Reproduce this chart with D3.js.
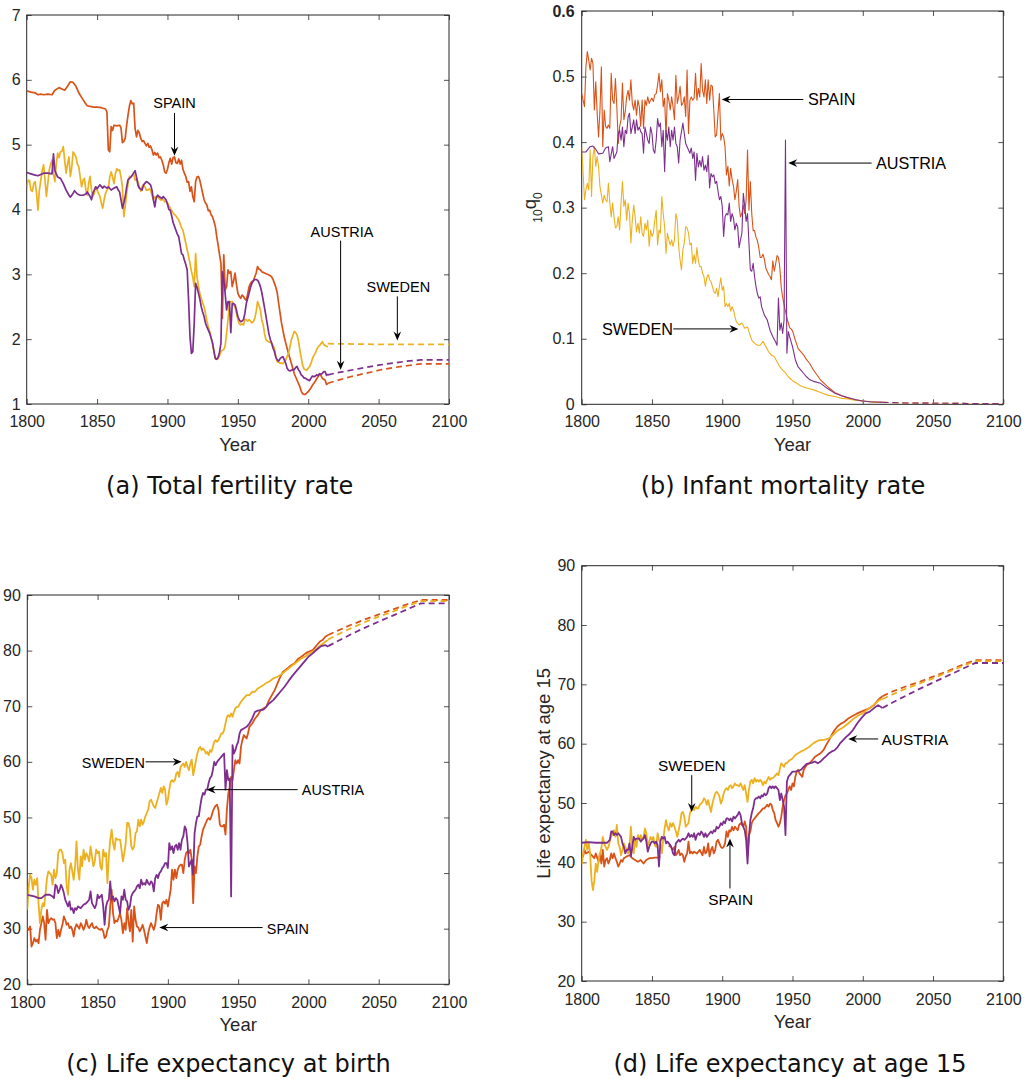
<!DOCTYPE html>
<html><head><meta charset="utf-8">
<script src="https://cdn.jsdelivr.net/npm/d3@7/dist/d3.min.js"></script>
<style>
body{margin:0;background:#fff}
svg{display:block}
</style></head><body>
<svg id="chart" width="1025" height="1079"></svg>
<script>
// ---------------- DATA ----------------
const countries = ['Spain', 'Sweden', 'Austria'];
const xTicks = [1800, 1850, 1900, 1950, 2000, 2050, 2100];
const tfrTicks = [1, 2, 3, 4, 5, 6, 7];
const imrTicks = [0, 0.1, 0.2, 0.3, 0.4, 0.5, 0.6];
const leTicks = [20, 30, 40, 50, 60, 70, 80, 90];

// (a) Total fertility rate
const tfrSpain = [[1800,5.83],[1803,5.81],[1806,5.80],[1808,5.77],[1810,5.78],[1812,5.77],[1815,5.78],[1818,5.77],[1820,5.84],[1823,5.88],[1825,5.86],[1827,5.84],[1829,5.90],[1831,5.97],[1833,5.96],[1835,5.90],[1837,5.80],[1839,5.73],[1841,5.66],[1843,5.60],[1845,5.59],[1848,5.58],[1850,5.58],[1853,5.57],[1856,5.55],[1857,5.50],[1858,4.92],[1859,4.89],[1860,5.28],[1861,5.22],[1862,5.30],[1864,5.29],[1866,5.30],[1867,5.26],[1868,5.03],[1869,5.05],[1870,5.10],[1871,5.30],[1872,5.46],[1873,5.60],[1874,5.68],[1875,5.63],[1876,5.64],[1877,5.25],[1878,5.12],[1879,5.22],[1880,5.18],[1881,5.10],[1882,5.05],[1883,5.06],[1884,5.02],[1885,4.98],[1886,5.02],[1887,4.96],[1888,4.98],[1889,4.92],[1890,4.84],[1891,4.88],[1892,4.84],[1893,4.87],[1894,4.80],[1895,4.81],[1896,4.76],[1897,4.69],[1898,4.58],[1899,4.56],[1900,4.62],[1901,4.72],[1902,4.79],[1903,4.70],[1904,4.80],[1905,4.81],[1906,4.72],[1907,4.71],[1908,4.78],[1909,4.70],[1910,4.76],[1911,4.62],[1912,4.56],[1913,4.51],[1914,4.42],[1915,4.43],[1916,4.28],[1917,4.35],[1918,4.20],[1919,4.12],[1920,4.43],[1921,4.50],[1922,4.51],[1923,4.45],[1924,4.35],[1925,4.25],[1926,4.15],[1927,4.10],[1928,4.07],[1929,3.98],[1930,3.99],[1931,3.92],[1932,3.89],[1933,3.82],[1934,3.74],[1935,3.58],[1936,3.45],[1937,3.30],[1938,3.17],[1939,2.32],[1940,3.30],[1941,2.76],[1942,2.81],[1943,3.07],[1944,3.02],[1945,3.04],[1946,2.81],[1947,2.90],[1948,3.02],[1949,2.85],[1950,2.71],[1951,2.66],[1952,2.63],[1953,2.68],[1954,2.66],[1955,2.62],[1956,2.60],[1957,2.70],[1958,2.81],[1959,2.86],[1960,2.89],[1961,2.90],[1962,2.96],[1963,3.02],[1964,3.12],[1965,3.08],[1966,3.07],[1967,3.04],[1968,3.03],[1969,3.02],[1970,3.01],[1971,3.00],[1972,2.99],[1973,2.98],[1974,2.96],[1975,2.92],[1976,2.86],[1977,2.80],[1978,2.71],[1979,2.55],[1980,2.40],[1981,2.25],[1982,2.14],[1983,2.03],[1984,1.94],[1985,1.86],[1986,1.78],[1987,1.70],[1988,1.63],[1989,1.55],[1990,1.47],[1991,1.42],[1992,1.37],[1993,1.32],[1994,1.27],[1995,1.20],[1996,1.16],[1997,1.15],[1998,1.15],[1999,1.17],[2000,1.19],[2001,1.22],[2002,1.25],[2003,1.29],[2004,1.32],[2005,1.35],[2006,1.39],[2007,1.42],[2008,1.47],[2009,1.44],[2010,1.40],[2011,1.38],[2012,1.37],[2013,1.30],[2014,1.32]];
const tfrSweden = [[1800,4.35],[1801,4.45],[1802,4.45],[1803,4.30],[1804,4.28],[1805,4.40],[1806,4.43],[1807,4.25],[1808,3.99],[1809,4.30],[1810,4.45],[1811,4.60],[1812,4.69],[1813,4.45],[1814,4.20],[1815,4.40],[1816,4.61],[1817,4.70],[1818,4.76],[1819,4.55],[1820,4.43],[1821,4.70],[1822,4.87],[1823,4.80],[1824,4.89],[1825,4.90],[1826,4.97],[1827,4.75],[1828,4.56],[1829,4.70],[1830,4.81],[1831,4.51],[1832,4.65],[1833,4.89],[1834,4.85],[1835,4.81],[1836,4.70],[1837,4.66],[1838,4.50],[1839,4.35],[1840,4.45],[1841,4.48],[1842,4.30],[1843,4.22],[1844,4.40],[1845,4.51],[1846,4.30],[1847,4.20],[1848,4.25],[1849,4.35],[1850,4.30],[1851,4.25],[1852,4.20],[1853,4.10],[1854,4.02],[1855,4.15],[1856,4.25],[1857,4.30],[1858,4.33],[1859,4.50],[1860,4.58],[1861,4.50],[1862,4.40],[1863,4.55],[1864,4.63],[1865,4.60],[1866,4.61],[1867,4.50],[1868,4.35],[1869,3.89],[1870,4.05],[1871,4.25],[1872,4.40],[1873,4.51],[1874,4.50],[1875,4.53],[1876,4.55],[1877,4.45],[1878,4.48],[1879,4.43],[1880,4.35],[1881,4.28],[1882,4.35],[1883,4.38],[1884,4.35],[1885,4.30],[1886,4.30],[1887,4.32],[1888,4.30],[1889,4.22],[1890,4.15],[1891,4.20],[1892,4.18],[1893,4.20],[1894,4.17],[1895,4.15],[1896,4.15],[1897,4.16],[1898,4.12],[1899,4.12],[1900,4.10],[1901,4.06],[1902,4.02],[1903,3.98],[1904,3.95],[1905,3.92],[1906,3.90],[1907,3.87],[1908,3.84],[1909,3.78],[1910,3.72],[1911,3.68],[1912,3.58],[1913,3.48],[1914,3.38],[1915,3.28],[1916,3.17],[1917,3.05],[1918,2.96],[1919,2.81],[1920,3.32],[1921,2.96],[1922,2.82],[1923,2.71],[1924,2.63],[1925,2.56],[1926,2.50],[1927,2.40],[1928,2.28],[1929,2.19],[1930,2.12],[1931,2.02],[1932,1.94],[1933,1.80],[1934,1.70],[1935,1.70],[1936,1.70],[1937,1.75],[1938,1.81],[1939,1.83],[1940,1.84],[1941,1.90],[1942,2.09],[1943,2.30],[1944,2.55],[1945,2.58],[1946,2.58],[1947,2.52],[1948,2.50],[1949,2.40],[1950,2.30],[1951,2.24],[1952,2.22],[1953,2.24],[1954,2.22],[1955,2.30],[1956,2.30],[1957,2.28],[1958,2.30],[1959,2.28],[1960,2.25],[1961,2.27],[1962,2.32],[1963,2.42],[1964,2.58],[1965,2.52],[1966,2.45],[1967,2.30],[1968,2.22],[1969,2.08],[1970,1.99],[1971,1.97],[1972,1.96],[1973,1.95],[1974,1.94],[1975,1.90],[1976,1.86],[1977,1.72],[1978,1.65],[1979,1.64],[1980,1.63],[1981,1.63],[1982,1.62],[1983,1.65],[1984,1.68],[1985,1.73],[1986,1.78],[1987,1.88],[1988,1.99],[1989,2.05],[1990,2.12],[1991,2.10],[1992,2.07],[1993,1.98],[1994,1.84],[1995,1.72],[1996,1.60],[1997,1.54],[1998,1.53],[1999,1.52],[2000,1.55],[2001,1.58],[2002,1.63],[2003,1.70],[2004,1.75],[2005,1.78],[2006,1.84],[2007,1.88],[2008,1.90],[2009,1.93],[2010,1.96],[2011,1.92],[2012,1.90],[2013,1.89],[2014,1.88]];
const tfrAustria = [[1800,4.57],[1803,4.55],[1806,4.53],[1808,4.52],[1810,4.54],[1812,4.56],[1815,4.56],[1818,4.55],[1819,4.86],[1820,4.60],[1822,4.50],[1824,4.48],[1826,4.40],[1828,4.30],[1830,4.22],[1831,4.19],[1833,4.25],[1834,4.29],[1836,4.24],[1838,4.22],[1840,4.22],[1842,4.24],[1843,4.27],[1845,4.20],[1846,4.15],[1847,4.25],[1849,4.35],[1850,4.32],[1852,4.38],[1854,4.33],[1855,4.36],[1857,4.33],[1858,4.35],[1860,4.30],[1862,4.33],[1864,4.35],[1865,4.30],[1866,4.27],[1867,4.15],[1868,4.02],[1869,4.10],[1870,4.20],[1871,4.35],[1872,4.46],[1874,4.50],[1875,4.53],[1877,4.60],[1878,4.50],[1879,4.38],[1880,4.33],[1882,4.30],[1883,4.38],[1885,4.43],[1886,4.42],[1888,4.38],[1889,4.30],[1890,4.15],[1891,4.04],[1892,4.18],[1893,4.22],[1894,4.20],[1896,4.17],[1897,4.20],[1899,4.15],[1900,4.08],[1901,4.00],[1902,3.99],[1903,3.90],[1904,3.80],[1905,3.74],[1906,3.68],[1907,3.62],[1908,3.58],[1909,3.45],[1910,3.32],[1911,3.30],[1912,3.22],[1913,3.15],[1914,3.07],[1915,2.60],[1916,2.04],[1917,1.78],[1918,1.81],[1919,2.24],[1920,2.86],[1921,2.80],[1922,2.71],[1923,2.62],[1924,2.50],[1925,2.42],[1926,2.35],[1927,2.25],[1928,2.19],[1929,2.14],[1930,2.09],[1931,2.02],[1932,1.94],[1933,1.82],[1934,1.70],[1935,1.69],[1936,1.72],[1937,1.80],[1938,1.94],[1939,3.04],[1940,2.91],[1941,2.70],[1942,2.45],[1943,2.58],[1944,2.58],[1945,2.10],[1946,2.55],[1947,2.55],[1948,2.53],[1949,2.45],[1950,2.35],[1951,2.30],[1952,2.27],[1953,2.28],[1954,2.30],[1955,2.40],[1956,2.55],[1957,2.63],[1958,2.71],[1959,2.80],[1960,2.86],[1961,2.90],[1962,2.92],[1963,2.92],[1964,2.91],[1965,2.87],[1966,2.81],[1967,2.72],[1968,2.60],[1969,2.48],[1970,2.35],[1971,2.22],[1972,2.09],[1973,2.00],[1974,1.94],[1975,1.86],[1976,1.81],[1977,1.72],[1978,1.68],[1979,1.66],[1980,1.70],[1981,1.72],[1982,1.73],[1983,1.68],[1984,1.63],[1985,1.55],[1986,1.52],[1987,1.51],[1988,1.52],[1989,1.53],[1990,1.53],[1991,1.56],[1992,1.58],[1993,1.53],[1994,1.50],[1995,1.45],[1996,1.43],[1997,1.40],[1998,1.40],[1999,1.38],[2000,1.37],[2001,1.36],[2002,1.40],[2003,1.43],[2004,1.42],[2005,1.43],[2006,1.45],[2007,1.44],[2008,1.46],[2009,1.46],[2010,1.47],[2011,1.50],[2012,1.50],[2013,1.44],[2014,1.46]];
const tfrSpainProj = [[2014,1.32],[2020,1.36],[2030,1.42],[2040,1.47],[2050,1.52],[2060,1.56],[2070,1.59],[2080,1.62],[2100,1.62]];
const tfrSwedenProj = [[2014,1.93],[2050,1.92],[2100,1.92]];
const tfrAustriaProj = [[2014,1.45],[2020,1.48],[2030,1.52],[2040,1.56],[2050,1.60],[2060,1.63],[2070,1.66],[2080,1.68],[2100,1.68]];

// (b) Infant mortality rate (10q0)
const imrSpain = [[1800,0.474],[1801,0.464],[1802,0.454],[1803,0.515],[1804,0.538],[1805,0.525],[1806,0.510],[1807,0.528],[1808,0.520],[1809,0.449],[1810,0.492],[1811,0.444],[1812,0.408],[1813,0.449],[1814,0.515],[1815,0.393],[1816,0.449],[1817,0.424],[1818,0.421],[1819,0.426],[1820,0.421],[1821,0.505],[1822,0.464],[1823,0.459],[1824,0.497],[1825,0.454],[1826,0.398],[1827,0.424],[1828,0.434],[1829,0.490],[1830,0.434],[1831,0.447],[1832,0.469],[1833,0.479],[1834,0.464],[1835,0.495],[1836,0.459],[1837,0.449],[1838,0.464],[1839,0.441],[1840,0.464],[1841,0.454],[1842,0.424],[1843,0.464],[1844,0.421],[1845,0.464],[1846,0.456],[1847,0.469],[1848,0.459],[1849,0.464],[1850,0.467],[1851,0.462],[1852,0.472],[1853,0.474],[1854,0.487],[1855,0.505],[1856,0.477],[1857,0.495],[1858,0.454],[1859,0.467],[1860,0.408],[1861,0.474],[1862,0.464],[1863,0.449],[1864,0.469],[1865,0.454],[1866,0.434],[1867,0.502],[1868,0.459],[1869,0.469],[1870,0.485],[1871,0.456],[1872,0.459],[1873,0.469],[1874,0.439],[1875,0.510],[1876,0.413],[1877,0.464],[1878,0.469],[1879,0.464],[1880,0.467],[1881,0.505],[1882,0.464],[1883,0.482],[1884,0.469],[1885,0.520],[1886,0.479],[1887,0.469],[1888,0.495],[1889,0.459],[1890,0.495],[1891,0.464],[1892,0.487],[1893,0.485],[1894,0.449],[1895,0.408],[1896,0.411],[1897,0.444],[1898,0.474],[1899,0.403],[1900,0.413],[1901,0.408],[1902,0.393],[1903,0.350],[1904,0.363],[1905,0.333],[1906,0.360],[1907,0.343],[1908,0.333],[1909,0.312],[1910,0.325],[1911,0.343],[1912,0.302],[1913,0.286],[1914,0.291],[1915,0.304],[1916,0.291],[1917,0.312],[1918,0.388],[1919,0.296],[1920,0.340],[1921,0.291],[1922,0.265],[1923,0.265],[1924,0.255],[1925,0.250],[1926,0.239],[1927,0.224],[1928,0.224],[1929,0.229],[1930,0.221],[1931,0.208],[1932,0.203],[1933,0.198],[1934,0.195],[1935,0.190],[1936,0.219],[1937,0.203],[1938,0.214],[1939,0.227],[1940,0.224],[1941,0.208],[1942,0.178],[1943,0.163],[1944,0.152],[1945,0.142],[1946,0.132],[1947,0.124],[1948,0.117],[1949,0.115],[1950,0.112],[1952,0.098],[1954,0.085],[1956,0.080],[1958,0.075],[1960,0.068],[1962,0.063],[1965,0.052],[1970,0.037],[1975,0.027],[1980,0.018],[1985,0.013],[1990,0.009],[1995,0.007],[2000,0.005],[2005,0.004],[2010,0.003],[2014,0.003]];
const imrSweden = [[1800,0.393],[1801,0.352],[1802,0.312],[1803,0.327],[1804,0.337],[1805,0.327],[1806,0.388],[1807,0.317],[1808,0.378],[1809,0.393],[1810,0.363],[1811,0.378],[1812,0.362],[1813,0.332],[1814,0.319],[1815,0.307],[1816,0.319],[1817,0.312],[1818,0.309],[1819,0.337],[1820,0.307],[1821,0.286],[1822,0.307],[1823,0.286],[1824,0.269],[1825,0.271],[1826,0.286],[1827,0.266],[1828,0.307],[1829,0.340],[1830,0.302],[1831,0.312],[1832,0.281],[1833,0.307],[1834,0.291],[1835,0.246],[1836,0.281],[1837,0.304],[1838,0.286],[1839,0.263],[1840,0.276],[1841,0.261],[1842,0.286],[1843,0.261],[1844,0.256],[1845,0.276],[1846,0.266],[1847,0.281],[1848,0.241],[1849,0.266],[1850,0.256],[1851,0.261],[1852,0.281],[1853,0.296],[1854,0.243],[1855,0.266],[1856,0.261],[1857,0.317],[1858,0.291],[1859,0.271],[1860,0.230],[1861,0.261],[1862,0.251],[1863,0.243],[1864,0.251],[1865,0.241],[1866,0.251],[1867,0.291],[1868,0.281],[1869,0.241],[1870,0.220],[1871,0.205],[1872,0.236],[1873,0.246],[1874,0.271],[1875,0.269],[1876,0.261],[1877,0.243],[1878,0.246],[1879,0.215],[1880,0.228],[1881,0.215],[1882,0.239],[1883,0.220],[1884,0.210],[1885,0.210],[1886,0.200],[1887,0.195],[1888,0.180],[1889,0.193],[1890,0.198],[1891,0.190],[1892,0.187],[1893,0.180],[1894,0.172],[1895,0.169],[1896,0.177],[1897,0.164],[1898,0.180],[1899,0.193],[1900,0.174],[1901,0.180],[1902,0.149],[1903,0.154],[1904,0.149],[1905,0.154],[1906,0.142],[1907,0.149],[1908,0.144],[1909,0.134],[1910,0.126],[1912,0.121],[1914,0.124],[1916,0.116],[1918,0.118],[1919,0.111],[1921,0.098],[1923,0.093],[1925,0.090],[1927,0.090],[1929,0.096],[1931,0.088],[1933,0.080],[1935,0.075],[1937,0.073],[1939,0.065],[1941,0.057],[1943,0.052],[1945,0.048],[1947,0.042],[1950,0.036],[1953,0.032],[1956,0.028],[1960,0.025],[1965,0.022],[1970,0.018],[1975,0.014],[1980,0.012],[1985,0.009],[1990,0.008],[1995,0.006],[2000,0.005],[2005,0.004],[2010,0.003],[2014,0.003]];
const imrAustria = [[1800,0.385],[1803,0.385],[1806,0.393],[1808,0.394],[1810,0.389],[1812,0.382],[1815,0.383],[1817,0.391],[1819,0.393],[1820,0.370],[1822,0.393],[1823,0.375],[1825,0.385],[1826,0.413],[1827,0.418],[1828,0.403],[1829,0.423],[1830,0.393],[1831,0.418],[1832,0.413],[1833,0.438],[1834,0.444],[1835,0.413],[1836,0.423],[1837,0.434],[1838,0.413],[1839,0.434],[1840,0.418],[1841,0.423],[1842,0.416],[1843,0.413],[1844,0.383],[1845,0.423],[1846,0.413],[1847,0.403],[1848,0.398],[1849,0.423],[1850,0.413],[1851,0.388],[1852,0.383],[1853,0.403],[1854,0.436],[1855,0.423],[1856,0.429],[1857,0.393],[1858,0.418],[1859,0.355],[1860,0.418],[1861,0.403],[1862,0.423],[1863,0.393],[1864,0.418],[1865,0.403],[1866,0.423],[1867,0.398],[1868,0.393],[1869,0.368],[1870,0.403],[1871,0.416],[1872,0.429],[1873,0.413],[1874,0.398],[1875,0.393],[1876,0.388],[1877,0.383],[1878,0.391],[1879,0.375],[1880,0.385],[1881,0.342],[1882,0.383],[1883,0.362],[1884,0.372],[1885,0.362],[1886,0.378],[1887,0.357],[1888,0.365],[1889,0.355],[1890,0.380],[1891,0.330],[1892,0.352],[1893,0.347],[1894,0.350],[1895,0.337],[1896,0.340],[1897,0.325],[1898,0.312],[1899,0.317],[1900,0.302],[1901,0.256],[1902,0.286],[1903,0.291],[1904,0.289],[1905,0.307],[1906,0.279],[1907,0.291],[1908,0.284],[1909,0.266],[1910,0.276],[1911,0.271],[1912,0.239],[1913,0.251],[1914,0.261],[1915,0.322],[1916,0.302],[1917,0.279],[1918,0.291],[1919,0.246],[1920,0.205],[1921,0.203],[1922,0.215],[1923,0.195],[1924,0.180],[1925,0.169],[1926,0.162],[1927,0.164],[1928,0.149],[1930,0.136],[1932,0.129],[1934,0.113],[1936,0.103],[1938,0.095],[1939,0.090],[1940,0.162],[1941,0.113],[1942,0.124],[1943,0.108],[1944,0.129],[1945,0.403],[1946,0.078],[1947,0.111],[1948,0.103],[1950,0.088],[1952,0.068],[1954,0.057],[1956,0.052],[1958,0.047],[1960,0.042],[1962,0.038],[1965,0.035],[1970,0.032],[1975,0.024],[1980,0.017],[1985,0.013],[1990,0.010],[1995,0.007],[2000,0.005],[2005,0.004],[2010,0.0035],[2014,0.003]];
const imrSpainProj = [[2014,0.003],[2030,0.002],[2060,0.0015],[2100,0.001]];
const imrSwedenProj = [[2014,0.003],[2030,0.002],[2060,0.0015],[2100,0.001]];
const imrAustriaProj = [[2014,0.003],[2030,0.002],[2060,0.0015],[2100,0.001]];

// (c) Life expectancy at birth
const e0Spain = [[1800,30.1],[1801,29.8],[1802,30.4],[1803,26.8],[1804,27.4],[1805,28.3],[1806,27.7],[1807,28.0],[1808,27.4],[1809,29.8],[1810,31.0],[1811,32.2],[1812,31.0],[1813,28.0],[1814,33.4],[1815,31.0],[1816,31.6],[1817,31.9],[1818,31.6],[1819,31.7],[1820,31.0],[1821,28.3],[1822,29.8],[1823,28.6],[1824,29.8],[1825,30.7],[1826,32.2],[1827,31.6],[1828,30.7],[1829,31.0],[1830,30.1],[1831,30.4],[1832,29.8],[1833,28.6],[1834,30.1],[1835,30.8],[1836,30.4],[1837,30.0],[1838,31.0],[1839,30.5],[1840,29.8],[1841,30.4],[1842,31.6],[1843,30.5],[1844,30.1],[1845,30.6],[1846,31.0],[1847,30.2],[1848,30.1],[1849,30.4],[1850,30.1],[1851,29.9],[1852,29.8],[1853,30.0],[1854,29.5],[1855,28.3],[1856,28.6],[1857,29.8],[1858,30.4],[1859,34.0],[1860,37.0],[1861,32.8],[1862,31.0],[1863,31.5],[1864,31.3],[1865,32.0],[1866,32.8],[1867,31.5],[1868,29.2],[1869,31.0],[1870,29.8],[1871,33.7],[1872,31.3],[1873,29.5],[1874,33.4],[1875,27.7],[1876,34.0],[1877,31.6],[1878,30.4],[1879,30.2],[1880,29.5],[1881,30.0],[1882,30.7],[1883,29.8],[1884,28.6],[1885,27.4],[1886,29.2],[1887,30.2],[1888,31.0],[1889,30.4],[1890,29.8],[1891,30.7],[1892,32.8],[1893,34.3],[1894,34.0],[1895,31.6],[1896,34.6],[1897,34.9],[1898,34.5],[1899,35.2],[1900,34.0],[1901,35.5],[1902,37.0],[1903,40.6],[1904,38.8],[1905,40.6],[1906,39.1],[1907,40.6],[1908,41.2],[1909,41.5],[1910,41.5],[1911,40.0],[1912,42.4],[1913,43.6],[1914,43.9],[1915,43.6],[1916,44.2],[1917,42.4],[1918,34.6],[1919,41.2],[1920,40.0],[1921,43.0],[1922,44.8],[1923,45.1],[1924,46.6],[1925,47.8],[1926,48.4],[1927,49.0],[1928,49.6],[1929,49.9],[1930,49.6],[1931,50.2],[1932,51.1],[1933,51.7],[1934,52.1],[1935,52.3],[1936,51.4],[1937,48.7],[1938,48.4],[1939,48.4],[1940,48.7],[1941,46.9],[1942,51.4],[1943,54.3],[1944,55.5],[1945,57.3],[1946,56.7],[1947,58.5],[1948,60.3],[1949,59.7],[1950,60.3],[1951,59.7],[1952,62.7],[1953,63.9],[1954,64.8],[1955,64.5],[1956,64.2],[1957,65.1],[1958,66.3],[1960,66.9],[1962,67.8],[1964,68.4],[1966,69.3],[1968,69.6],[1970,69.9],[1972,71.1],[1974,72.0],[1976,72.9],[1978,74.1],[1980,75.3],[1982,76.2],[1985,76.8],[1988,77.4],[1990,77.7],[1993,78.6],[1995,78.9],[1998,79.5],[2000,79.8],[2003,80.1],[2005,80.7],[2008,81.6],[2010,81.9],[2012,82.5],[2014,82.8]];
const e0Sweden = [[1800,33.4],[1801,37.6],[1802,39.7],[1803,39.1],[1804,37.0],[1805,38.8],[1806,37.9],[1807,39.1],[1808,34.6],[1809,31.0],[1810,33.4],[1811,34.6],[1812,34.0],[1813,36.4],[1814,39.1],[1815,40.3],[1816,40.0],[1817,39.7],[1818,37.9],[1819,40.6],[1820,39.1],[1821,40.0],[1822,43.6],[1823,44.2],[1824,44.2],[1825,43.6],[1826,41.8],[1827,42.4],[1828,37.6],[1829,36.1],[1830,40.6],[1831,41.8],[1832,40.3],[1833,38.8],[1834,41.2],[1835,45.7],[1836,40.6],[1837,38.8],[1838,43.0],[1839,41.2],[1840,44.2],[1841,42.4],[1842,43.6],[1843,43.0],[1844,42.1],[1845,44.8],[1846,43.0],[1847,41.2],[1848,42.1],[1849,44.2],[1850,43.6],[1851,43.9],[1852,41.2],[1853,40.6],[1854,44.2],[1855,43.0],[1856,43.6],[1857,38.2],[1858,43.0],[1859,46.0],[1860,47.8],[1861,45.4],[1862,44.2],[1863,46.3],[1864,46.0],[1865,46.0],[1866,46.0],[1867,44.2],[1868,42.1],[1869,43.6],[1870,45.4],[1871,49.0],[1872,49.0],[1873,47.8],[1874,44.8],[1875,44.2],[1876,44.8],[1877,47.2],[1878,47.5],[1879,49.6],[1880,48.4],[1881,49.6],[1882,48.7],[1883,49.3],[1884,50.2],[1885,50.8],[1886,51.4],[1887,52.9],[1888,53.2],[1889,52.6],[1890,52.0],[1891,51.7],[1892,52.6],[1893,53.5],[1894,54.4],[1895,55.3],[1896,54.4],[1897,55.6],[1898,55.0],[1899,52.3],[1900,53.2],[1901,55.0],[1902,56.4],[1903,56.7],[1904,56.4],[1905,56.7],[1906,57.9],[1907,58.2],[1908,57.3],[1909,59.1],[1910,59.4],[1911,59.7],[1912,59.1],[1913,60.0],[1914,59.1],[1915,58.5],[1916,59.7],[1917,60.4],[1918,57.6],[1919,58.8],[1920,60.3],[1921,61.5],[1922,62.4],[1923,62.7],[1924,62.1],[1925,62.4],[1926,62.1],[1927,61.5],[1928,61.8],[1929,61.2],[1930,62.1],[1931,61.8],[1932,62.7],[1933,63.6],[1934,63.9],[1935,63.6],[1936,63.9],[1937,64.5],[1938,65.1],[1939,65.1],[1940,65.7],[1941,66.9],[1942,68.1],[1943,68.4],[1944,68.1],[1945,68.7],[1946,68.1],[1947,69.0],[1948,69.6],[1949,69.9],[1950,69.9],[1952,70.8],[1954,71.4],[1956,72.0],[1958,72.0],[1960,72.6],[1962,72.6],[1964,73.2],[1966,73.5],[1968,73.8],[1970,74.2],[1972,74.4],[1975,75.0],[1978,75.3],[1980,75.6],[1983,76.2],[1986,76.8],[1989,77.4],[1992,78.0],[1995,78.6],[1998,79.0],[2000,79.4],[2003,79.8],[2006,80.4],[2009,81.0],[2012,81.6],[2014,81.9]];
const e0Austria = [[1800,36.1],[1805,35.8],[1808,35.5],[1810,35.5],[1813,36.1],[1816,36.1],[1818,35.8],[1819,35.5],[1820,37.9],[1821,37.6],[1822,36.4],[1823,37.0],[1824,37.9],[1825,37.3],[1826,36.4],[1827,35.2],[1828,34.6],[1829,34.0],[1830,34.9],[1831,33.4],[1832,33.7],[1833,32.8],[1834,33.7],[1835,33.4],[1836,34.0],[1838,33.7],[1840,34.3],[1842,34.6],[1844,35.2],[1845,36.7],[1846,34.6],[1848,33.7],[1849,34.3],[1850,36.1],[1851,35.5],[1852,35.8],[1853,36.1],[1854,34.0],[1855,30.7],[1856,34.0],[1857,34.9],[1858,35.2],[1859,38.5],[1860,35.2],[1861,35.8],[1862,34.9],[1863,35.5],[1864,35.2],[1865,34.0],[1866,32.8],[1867,35.8],[1868,35.2],[1869,37.0],[1870,35.2],[1871,34.9],[1872,33.4],[1873,34.0],[1874,35.8],[1875,36.4],[1876,36.7],[1877,37.0],[1878,37.6],[1879,37.9],[1880,37.3],[1881,38.8],[1882,37.9],[1883,38.2],[1884,37.9],[1885,38.8],[1886,38.2],[1887,37.9],[1888,38.5],[1889,38.2],[1890,36.7],[1891,39.1],[1892,39.7],[1893,39.1],[1894,40.0],[1895,40.3],[1896,40.9],[1897,41.2],[1898,41.8],[1899,41.8],[1900,40.9],[1901,45.4],[1902,44.2],[1903,44.8],[1904,43.6],[1905,44.8],[1906,45.1],[1907,44.2],[1908,45.4],[1909,44.2],[1910,46.0],[1911,46.6],[1912,48.4],[1913,47.8],[1914,45.4],[1915,41.2],[1916,41.8],[1917,42.4],[1918,39.7],[1919,47.2],[1920,49.0],[1921,50.2],[1922,50.2],[1923,52.0],[1924,53.5],[1925,54.4],[1926,54.1],[1927,55.0],[1928,55.0],[1929,56.2],[1930,57.1],[1931,57.4],[1932,58.5],[1933,60.0],[1934,59.4],[1935,60.0],[1936,60.3],[1937,60.6],[1938,60.9],[1939,61.2],[1940,61.5],[1941,55.0],[1942,58.5],[1943,56.7],[1944,57.0],[1945,35.8],[1946,63.0],[1947,61.5],[1948,62.1],[1949,63.0],[1950,63.6],[1951,65.1],[1952,65.7],[1954,66.0],[1956,66.3],[1958,66.9],[1960,67.8],[1962,69.0],[1964,69.2],[1966,69.3],[1968,69.4],[1970,69.9],[1972,70.5],[1975,71.1],[1978,72.0],[1980,72.6],[1983,73.5],[1986,74.6],[1989,75.6],[1992,76.5],[1995,77.4],[1998,78.3],[2000,78.9],[2003,79.5],[2006,80.2],[2009,80.8],[2012,81.0],[2014,80.7]];
const e0SpainProj = [[2014,82.8],[2020,83.5],[2030,84.6],[2040,85.6],[2050,86.5],[2060,87.4],[2070,88.3],[2080,89.1],[2100,89.1]];
const e0SwedenProj = [[2014,82.0],[2020,82.8],[2030,84.0],[2040,85.1],[2050,86.1],[2060,87.0],[2070,88.0],[2080,88.9],[2100,88.9]];
const e0AustriaProj = [[2014,80.8],[2020,81.6],[2030,82.9],[2040,84.1],[2050,85.2],[2060,86.3],[2070,87.4],[2080,88.5],[2100,88.5]];

// (d) Life expectancy at age 15 (null = missing year)
const e15Spain = [[1800,41.5],[1801,41.0],[1802,42.1],[1803,41.5],[1805,41.8],[1807,41.2],[1809,40.7],[1810,41.5],[1812,40.1],[1813,41.5],[1814,39.8],[1815,42.1],[1816,39.3],[1817,40.4],[1818,40.7],[1819,39.8],[1820,40.4],[1821,41.5],[1822,40.7],[1823,41.5],[1824,40.7],[1825,40.1],[1826,39.3],[1827,39.8],[1828,40.4],[1829,40.1],[1830,40.7],[1832,41.0],[1834,41.2],[1836,40.7],[1838,40.4],[1840,40.1],[1842,40.4],[1844,39.8],[1846,40.4],[1848,40.7],[1850,40.7],[1852,40.8],[1854,40.8],[1856,41.0],[1858,null],[1862,42.6],[1863,42.9],[1864,42.4],[1865,42.1],[1866,42.6],[1867,41.2],[1868,41.5],[1869,42.1],[1870,41.2],[1871,41.5],[1872,41.2],[1873,40.1],[1874,41.0],[1875,41.5],[1876,43.5],[1877,41.5],[1878,41.8],[1879,41.5],[1880,41.8],[1882,41.5],[1884,42.1],[1886,41.2],[1887,42.6],[1888,41.5],[1889,41.8],[1890,43.2],[1891,41.0],[1892,42.1],[1893,42.6],[1894,41.5],[1895,42.1],[1896,43.5],[1897,43.8],[1898,43.2],[1899,42.6],[1900,42.4],[1901,42.6],[1902,43.2],[1903,45.2],[1904,44.3],[1905,45.4],[1906,45.2],[1907,46.0],[1908,45.4],[1909,46.0],[1910,45.7],[1911,45.4],[1912,46.3],[1913,46.6],[1914,46.3],[1915,46.0],[1916,46.9],[1917,46.0],[1918,41.2],[1919,44.6],[1920,45.2],[1921,46.6],[1922,47.1],[1923,47.4],[1924,47.7],[1925,48.0],[1926,48.3],[1927,48.5],[1928,48.8],[1929,49.1],[1930,49.1],[1931,49.4],[1932,49.7],[1933,49.4],[1934,49.9],[1935,49.7],[1936,48.8],[1937,48.3],[1938,47.1],[1939,46.6],[1940,46.0],[1941,46.6],[1942,47.7],[1943,49.4],[1944,50.5],[1945,51.3],[1946,51.6],[1947,52.2],[1948,52.8],[1949,52.2],[1950,53.3],[1951,52.8],[1952,54.4],[1953,55.3],[1954,55.6],[1955,55.0],[1956,54.7],[1957,54.4],[1958,55.6],[1960,56.4],[1962,56.7],[1964,57.2],[1966,57.8],[1968,58.1],[1970,58.4],[1972,58.9],[1974,59.8],[1976,60.6],[1978,61.5],[1980,62.3],[1982,62.9],[1984,63.3],[1987,63.7],[1990,64.3],[1993,64.7],[1996,65.1],[1999,65.4],[2002,65.7],[2005,66.0],[2008,66.5],[2011,67.4],[2014,68.0]];
const e15Sweden = [[1800,39.6],[1801,41.5],[1802,42.6],[1803,43.8],[1804,42.1],[1805,43.2],[1806,41.5],[1807,37.0],[1808,35.3],[1809,37.0],[1810,39.8],[1811,38.4],[1812,40.4],[1813,41.5],[1814,42.4],[1815,44.3],[1816,43.2],[1817,42.6],[1818,42.1],[1819,42.6],[1820,43.5],[1821,44.3],[1822,44.9],[1823,45.4],[1824,44.3],[1825,46.3],[1826,43.2],[1827,42.6],[1828,41.2],[1829,42.1],[1830,43.2],[1831,42.6],[1832,42.1],[1833,41.5],[1834,42.6],[1835,46.0],[1836,42.6],[1837,41.5],[1838,43.8],[1839,42.6],[1840,44.6],[1841,43.8],[1842,44.6],[1843,43.8],[1844,44.3],[1845,45.7],[1846,44.9],[1847,42.9],[1848,43.5],[1849,44.3],[1850,43.8],[1851,44.3],[1852,42.9],[1853,42.6],[1854,44.9],[1855,43.8],[1856,43.2],[1857,41.5],[1858,43.8],[1859,45.7],[1860,47.1],[1861,46.0],[1862,45.4],[1863,46.6],[1864,46.0],[1865,46.6],[1866,46.0],[1867,45.2],[1868,44.3],[1869,45.4],[1870,46.6],[1871,48.3],[1872,48.5],[1873,47.7],[1874,46.0],[1875,46.3],[1876,46.6],[1877,48.3],[1878,48.8],[1879,49.4],[1880,48.8],[1881,49.4],[1882,49.1],[1883,49.1],[1884,49.7],[1885,49.9],[1886,50.2],[1887,50.8],[1888,50.5],[1889,49.7],[1890,50.5],[1891,49.4],[1892,48.5],[1893,49.9],[1894,50.8],[1895,51.6],[1896,51.9],[1897,51.6],[1898,51.1],[1899,49.9],[1900,50.5],[1901,51.6],[1902,52.2],[1903,52.5],[1904,52.2],[1905,52.8],[1906,53.0],[1907,52.5],[1908,52.8],[1909,53.3],[1910,53.0],[1911,53.0],[1912,52.8],[1913,53.3],[1914,52.8],[1915,52.2],[1916,53.0],[1917,51.6],[1918,50.2],[1919,52.2],[1920,53.6],[1921,53.9],[1922,53.3],[1923,54.2],[1924,53.6],[1925,53.9],[1926,53.6],[1927,53.9],[1928,53.6],[1929,53.0],[1930,53.6],[1931,53.3],[1932,53.9],[1933,54.4],[1934,53.9],[1935,54.2],[1936,54.2],[1937,54.4],[1938,54.7],[1939,55.0],[1940,54.7],[1941,55.8],[1942,56.7],[1943,56.4],[1944,56.1],[1945,56.7],[1946,56.7],[1947,57.0],[1948,57.2],[1950,57.5],[1952,58.1],[1954,58.4],[1956,58.7],[1958,58.9],[1960,59.2],[1962,59.5],[1965,60.1],[1968,60.5],[1970,60.6],[1973,60.7],[1976,60.9],[1979,61.5],[1982,62.2],[1985,62.6],[1988,63.1],[1991,63.7],[1994,64.3],[1997,64.8],[2000,65.1],[2003,65.7],[2006,66.2],[2009,66.8],[2012,67.4],[2014,67.5]];
const e15Austria = [[1800,43.3],[1805,43.4],[1810,43.3],[1815,43.3],[1818,43.3],[1820,43.8],[1821,45.2],[1822,45.2],[1823,44.6],[1824,44.9],[1825,44.6],[1826,44.9],[1827,44.6],[1828,44.3],[1829,43.2],[1830,42.6],[1831,41.5],[1832,42.1],[1833,42.1],[1834,43.2],[1835,41.0],[1836,42.6],[1837,44.3],[1838,43.8],[1839,44.0],[1840,44.0],[1841,44.0],[1842,43.5],[1843,43.8],[1844,44.0],[1845,44.6],[1846,43.5],[1847,41.8],[1848,42.6],[1849,43.2],[1850,43.5],[1851,43.5],[1852,43.2],[1853,43.5],[1854,42.9],[1855,39.3],[1856,43.5],[1857,44.3],[1858,44.0],[1859,44.3],[1860,43.2],[1861,43.5],[1862,43.2],[1863,42.9],[1864,42.4],[1865,41.5],[1866,41.2],[1867,43.2],[1868,43.5],[1869,43.8],[1870,43.5],[1871,43.8],[1872,44.0],[1873,43.8],[1874,44.0],[1875,44.3],[1876,44.9],[1877,44.3],[1878,44.6],[1879,44.3],[1880,44.9],[1881,43.8],[1882,44.6],[1883,44.9],[1884,44.6],[1885,45.2],[1886,44.9],[1887,44.3],[1888,44.9],[1889,44.3],[1890,44.6],[1891,44.9],[1892,45.2],[1893,44.9],[1894,45.4],[1895,45.2],[1896,46.0],[1897,45.7],[1898,46.0],[1899,46.6],[1900,46.3],[1901,46.9],[1902,46.6],[1903,47.4],[1904,47.4],[1905,47.1],[1906,47.4],[1907,46.9],[1908,47.7],[1909,47.4],[1910,47.7],[1911,48.0],[1912,48.5],[1913,48.0],[1914,46.6],[1915,46.0],[1916,45.4],[1917,43.8],[1918,39.8],[1919,44.3],[1920,47.1],[1921,48.3],[1922,49.1],[1923,50.5],[1924,50.8],[1925,50.8],[1926,51.1],[1927,50.8],[1928,51.3],[1929,51.1],[1930,51.6],[1931,51.3],[1932,51.6],[1933,52.5],[1934,52.8],[1935,52.5],[1936,52.8],[1937,52.5],[1938,52.8],[1939,52.5],[1940,52.2],[1941,50.5],[1942,51.6],[1943,50.5],[1944,49.4],[1945,44.6],[1946,53.6],[1947,54.4],[1948,54.7],[1949,55.0],[1950,55.3],[1952,55.3],[1954,55.4],[1956,55.6],[1958,56.1],[1960,56.6],[1962,56.7],[1964,56.8],[1966,57.0],[1968,56.7],[1970,57.0],[1972,57.5],[1974,57.9],[1976,58.4],[1978,58.7],[1980,58.9],[1982,59.4],[1984,60.1],[1986,60.6],[1988,61.1],[1990,61.5],[1993,62.3],[1996,63.4],[1999,64.3],[2002,65.1],[2005,65.4],[2008,66.0],[2011,66.5],[2014,66.0]];
const e15SpainProj = [[2014,68.0],[2020,68.7],[2030,69.6],[2040,70.4],[2050,71.3],[2060,72.2],[2070,73.2],[2080,74.1],[2100,74.1]];
const e15SwedenProj = [[2014,67.5],[2020,68.2],[2030,69.2],[2040,70.1],[2050,71.0],[2060,72.0],[2070,73.0],[2080,73.9],[2100,73.9]];
const e15AustriaProj = [[2014,66.0],[2020,66.8],[2030,68.0],[2040,69.2],[2050,70.3],[2060,71.4],[2070,72.5],[2080,73.6],[2100,73.6]];

// ---------------- STYLE / LAYOUT ----------------
const COLORS = {Spain: '#D95319', Sweden: '#EDB120', Austria: '#7E2F8E'};
const AXIS_COLOR = '#262626';
const TICK_FONT = "'Liberation Sans', Arial, Helvetica, sans-serif";
const CAPTION_FONT = "'DejaVu Sans', Verdana, sans-serif";

const panels = [
  {
    id: 'a', box: {l: 26.7, r: 449, t: 15, b: 404}, yDomain: [1, 7], yTicks: tfrTicks,
    yFmt: d => String(d), xPad: 11.5, yPad: 6, lw: 1.7, annSize: 14.5,
    series: {Spain: tfrSpain, Sweden: tfrSweden, Austria: tfrAustria},
    proj: {Spain: tfrSpainProj, Sweden: tfrSwedenProj, Austria: tfrAustriaProj},
    caption: '(a) Total fertility rate', capX: 229.7, capY: 494,
    ann: [
      {text: 'SPAIN', tx: 1905, ty: 5.65, anchor: 'middle', a: [1905, 5.49, 1905, 4.83]},
      {text: 'AUSTRIA', tx: 2024, ty: 3.66, anchor: 'middle', a: [2023, 3.52, 2023, 1.53]},
      {text: 'SWEDEN', tx: 2064, ty: 2.81, anchor: 'middle', a: [2063.3, 2.66, 2063.3, 1.98]}
    ]
  },
  {
    id: 'b', box: {l: 581.7, r: 1003.3, t: 11, b: 404.3}, yDomain: [0, 0.6], yTicks: imrTicks,
    yFmt: d => d === 0 ? '0' : d3.format('.1f')(d), xPad: 11.5, yPad: 7, lw: 1.1, annSize: 16.2,
    series: {Spain: imrSpain, Sweden: imrSweden, Austria: imrAustria},
    proj: {Spain: imrSpainProj, Sweden: imrSwedenProj, Austria: imrAustriaProj},
    caption: '(b) Infant mortality rate', capX: 783, capY: 494,
    ann: [
      {text: 'SPAIN', tx: 1961, ty: 0.465, anchor: 'start', a: [1957.7, 0.465, 1899.6, 0.465]},
      {text: 'AUSTRIA', tx: 2009.4, ty: 0.368, anchor: 'start', a: [2006.3, 0.368, 1947.0, 0.368]},
      {text: 'SWEDEN', tx: 1865, ty: 0.115, anchor: 'end', a: [1865.2, 0.115, 1911.5, 0.115]}
    ]
  },
  {
    id: 'c', box: {l: 27.3, r: 449, t: 595, b: 984.3}, yDomain: [20, 90], yTicks: leTicks,
    yFmt: d => String(d), xPad: 12.5, yPad: 6.5, lw: 1.8, annSize: 14.4,
    series: {Spain: e0Spain, Sweden: e0Sweden, Austria: e0Austria},
    proj: {Spain: e0SpainProj, Sweden: e0SwedenProj, Austria: e0AustriaProj},
    caption: '(c) Life expectancy at birth', capX: 228.5, capY: 1072,
    ann: [
      {text: 'SWEDEN', tx: 1883.7, ty: 59.9, anchor: 'end', a: [1884.2, 60, 1909.8, 60]},
      {text: 'AUSTRIA', tx: 1995.3, ty: 55.0, anchor: 'start', a: [1992.3, 55, 1927.6, 55]},
      {text: 'SPAIN', tx: 1970.4, ty: 30.0, anchor: 'start', a: [1967.4, 30.2, 1893.9, 30.2]}
    ]
  },
  {
    id: 'd', box: {l: 581.7, r: 1003.3, t: 565.7, b: 981}, yDomain: [20, 90], yTicks: leTicks,
    yFmt: d => String(d), xPad: 13, yPad: 6.5, lw: 1.8, annSize: 15.4,
    series: {Spain: e15Spain, Sweden: e15Sweden, Austria: e15Austria},
    proj: {Spain: e15SpainProj, Sweden: e15SwedenProj, Austria: e15AustriaProj},
    caption: '(d) Life expectancy at age 15', capX: 790, capY: 1072.3,
    ylabel: 'Life expectancy at age 15',
    ann: [
      {text: 'SWEDEN', tx: 1878.3, ty: 56.3, anchor: 'middle', a: [1878.3, 54.7, 1878.3, 48.5]},
      {text: 'SPAIN', tx: 1906, ty: 33.8, anchor: 'middle', a: [1905.5, 35.6, 1905.5, 44.0]},
      {text: 'AUSTRIA', tx: 2013.4, ty: 60.7, anchor: 'start', a: [2011.0, 60.8, 1989.7, 60.8]}
    ]
  }
];

const svg = d3.select('#chart');
const defs = svg.append('defs');

function drawArrow(g, x1, y1, x2, y2) {
  const ang = Math.atan2(y2 - y1, x2 - x1);
  const bx = x2 - Math.cos(ang) * 6, by = y2 - Math.sin(ang) * 6;
  g.append('line').attr('x1', x1).attr('y1', y1).attr('x2', bx).attr('y2', by)
    .attr('stroke', '#000').attr('stroke-width', 1);
  g.append('path').attr('d', 'M0,0L-9,-3.8L-6,0L-9,3.8Z')
    .attr('transform', `translate(${x2},${y2}) rotate(${ang * 180 / Math.PI})`)
    .attr('fill', '#000');
}

function styleAxis(sel) {
  sel.select('.domain').remove();
  sel.selectAll('.tick line').attr('stroke', AXIS_COLOR).attr('stroke-width', 0.8);
  sel.selectAll('.tick text').attr('fill', AXIS_COLOR)
    .style('font-family', TICK_FONT).style('font-size', '16px');
}

panels.forEach(p => {
  const {l, r, t, b} = p.box;
  const x = d3.scaleLinear().domain([1800, 2100]).range([l, r]);
  const y = d3.scaleLinear().domain(p.yDomain).range([b, t]);
  const g = svg.append('g').attr('class', 'panel-' + p.id);

  defs.append('clipPath').attr('id', 'clip-' + p.id)
    .append('rect').attr('x', l).attr('y', t - 2).attr('width', r - l).attr('height', b - t + 2);

  // axes with inward ticks on all four sides
  g.append('g').attr('transform', `translate(0,${b})`)
    .call(d3.axisBottom(x).tickValues(xTicks).tickSizeInner(-5).tickSizeOuter(0)
      .tickPadding(p.xPad).tickFormat(d3.format('d'))).call(styleAxis);
  g.append('g').attr('transform', `translate(0,${t})`)
    .call(d3.axisTop(x).tickValues(xTicks).tickSizeInner(-5).tickSizeOuter(0).tickFormat('')).call(styleAxis);
  const yl = g.append('g').attr('transform', `translate(${l},0)`)
    .call(d3.axisLeft(y).tickValues(p.yTicks).tickSizeInner(-5).tickSizeOuter(0)
      .tickPadding(p.yPad).tickFormat(p.yFmt)).call(styleAxis);
  if (p.id === 'b') {
    yl.selectAll('.tick text').filter(d => d === 0.6).style('font-weight', 'bold');
  }
  g.append('g').attr('transform', `translate(${r},0)`)
    .call(d3.axisRight(y).tickValues(p.yTicks).tickSizeInner(-5).tickSizeOuter(0).tickFormat('')).call(styleAxis);

  g.append('rect').attr('x', l).attr('y', t).attr('width', r - l).attr('height', b - t)
    .attr('fill', 'none').attr('stroke', AXIS_COLOR).attr('stroke-width', 1);

  // x label
  g.append('text').attr('x', (l + r) / 2).attr('y', b + 46.5).attr('text-anchor', 'middle')
    .attr('fill', AXIS_COLOR).style('font-family', TICK_FONT).style('font-size', '18.5px').text('Year');

  // y labels
  if (p.id === 'b') {
    const yt = g.append('text').attr('transform', `translate(536,207.5) rotate(-90)`)
      .attr('text-anchor', 'middle').attr('fill', AXIS_COLOR).style('font-family', TICK_FONT);
    yt.append('tspan').style('font-size', '12px').attr('dy', 5.5).text('10');
    yt.append('tspan').style('font-size', '18.5px').attr('dy', -5.5).text('q');
    yt.append('tspan').style('font-size', '12px').attr('dy', 5.5).text('0');
  }
  if (p.ylabel) {
    g.append('text').attr('transform', `translate(549.5,${(t + b) / 2}) rotate(-90)`)
      .attr('text-anchor', 'middle').attr('fill', AXIS_COLOR)
      .style('font-family', TICK_FONT).style('font-size', '18.5px').text(p.ylabel);
  }

  // data lines
  const line = d3.line().defined(d => d[1] != null).x(d => x(d[0])).y(d => y(d[1]));
  const lg = g.append('g').attr('clip-path', `url(#clip-${p.id})`);
  countries.forEach(c => {
    lg.append('path').datum(p.proj[c]).attr('d', line).attr('fill', 'none')
      .attr('stroke', COLORS[c]).attr('stroke-width', p.lw).attr('stroke-dasharray', '6,4');
  });
  countries.forEach(c => {
    lg.append('path').datum(p.series[c]).attr('d', line).attr('fill', 'none')
      .attr('stroke', COLORS[c]).attr('stroke-width', p.lw).attr('stroke-linejoin', 'round');
  });

  // annotations
  p.ann.forEach(a => {
    drawArrow(g, x(a.a[0]), y(a.a[1]), x(a.a[2]), y(a.a[3]));
    g.append('text').attr('x', x(a.tx)).attr('y', y(a.ty)).attr('dy', '0.36em')
      .attr('text-anchor', a.anchor).attr('fill', '#000')
      .style('font-family', TICK_FONT).style('font-size', p.annSize + 'px').text(a.text);
  });

  // caption
  svg.append('text').attr('x', p.capX).attr('y', p.capY).attr('text-anchor', 'middle')
    .attr('fill', '#111').style('font-family', CAPTION_FONT).style('font-size', '24px').text(p.caption);
});
</script>
</body></html>
